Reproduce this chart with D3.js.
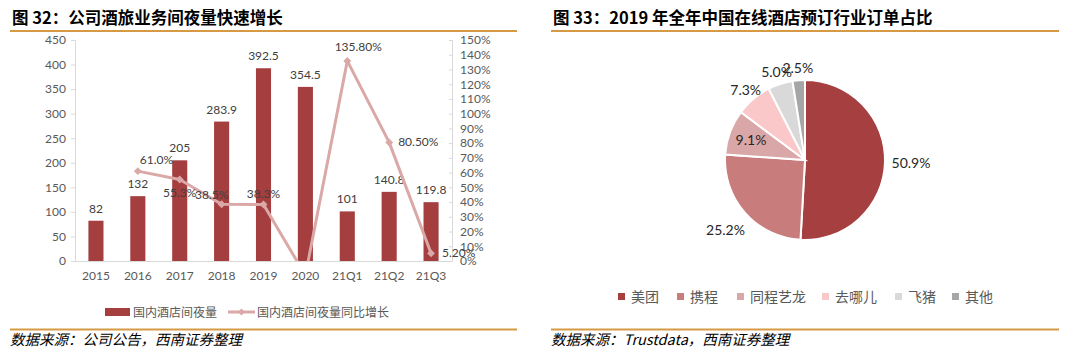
<!DOCTYPE html>
<html>
<head>
<meta charset="utf-8">
<script src="https://cdn.jsdelivr.net/npm/d3@7/dist/d3.min.js"></script>
<style>
  body { margin: 0; background: #fff; }
  svg { display: block; }
  .tick text { fill: #595959; }
</style>
</head>
<body>
<div id="chart"></div>
<script>
// data, left panel
var years = ["2015", "2016", "2017", "2018", "2019", "2020", "21Q1", "21Q2", "21Q3"];
var nights = [82, 132, 205, 283.9, 392.5, 354.5, 101, 140.8, 119.8];
var growth = [null, 61.0, 55.3, 38.5, 38.3, -9.7, 135.8, 80.5, 5.2];
var growthLabels = [null, "61.0%", "55.3%", "38.5%", "38.3%", null, "135.80%", "80.50%", "5.20%"];
var leftTicks = [0, 50, 100, 150, 200, 250, 300, 350, 400, 450];

// data, right panel
var platforms = ["美团", "携程", "同程艺龙", "去哪儿", "飞猪", "其他"];
var shares = [50.9, 25.2, 9.1, 7.3, 5.0, 2.5];

var W = 1080, H = 352;
var font = "Lato, 'Noto Sans CJK SC', sans-serif";
var cjk = "'Noto Sans CJK SC', sans-serif";
var gold = "#D69A45";
var barColor = "#A43E3F";
var lineColor = "#DBA8A8";
var sliceColors = ["#A63F40", "#C97C7C", "#D9A7A7", "#FAC8C8", "#D9D9D9", "#A6A6A6"];

var svg = d3.select("#chart").append("svg")
  .attr("width", W).attr("height", H)
  .style("font-family", font);

// headers, rules and sources
function frame(x0, x1, title, source) {
  svg.append("text").attr("x", x0 + 2).attr("y", 24)
    .attr("font-family", cjk).attr("font-weight", "bold")
    .attr("font-size", 16.5).attr("fill", "#000").text(title);
  svg.append("line").attr("x1", x0).attr("x2", x1).attr("y1", 31).attr("y2", 31)
    .attr("stroke", gold).attr("stroke-width", 2);
  svg.append("line").attr("x1", x0).attr("x2", x1).attr("y1", 329.5).attr("y2", 329.5)
    .attr("stroke", gold).attr("stroke-width", 2);
  svg.append("text").attr("x", x0).attr("y", 345)
    .attr("font-family", cjk).attr("font-style", "italic")
    .attr("font-size", 14.5).attr("fill", "#000").text(source);
}
frame(10, 517, "图 32：公司酒旅业务间夜量快速增长", "数据来源：公司公告，西南证券整理");
frame(551, 1059, "图 33：2019 年全年中国在线酒店预订行业订单占比", "数据来源：Trustdata，西南证券整理");

// ---- left: bars + growth line
var x = d3.scaleBand().domain(years).range([75, 452]).paddingInner(0.64).paddingOuter(0.32);
var y = d3.scaleLinear().domain([0, 450]).range([261, 40]);
var y2 = d3.scaleLinear().domain([0, 1.5]).range([261, 40]);

var gl = svg.append("g").attr("transform", "translate(75,0)")
  .call(d3.axisLeft(y).tickValues(leftTicks).tickSize(4).tickPadding(5));
gl.select(".domain").attr("stroke", "#D9D9D9");
gl.selectAll(".tick line").attr("stroke", "#D9D9D9");
gl.selectAll("text").attr("font-size", 12).attr("font-family", font);

var gr = svg.append("g").attr("transform", "translate(452,0)")
  .call(d3.axisRight(y2).tickValues(d3.range(0, 16).map(function(i) { return i / 10; }))
    .tickFormat(d3.format(".0%")).tickSize(-3).tickPadding(8));
gr.select(".domain").attr("stroke", "#D9D9D9");
gr.selectAll(".tick line").attr("stroke", "#D9D9D9");
gr.selectAll("text").attr("font-size", 12).attr("font-family", font);

var gx = svg.append("g").attr("transform", "translate(0,261)")
  .call(d3.axisBottom(x).tickSize(0).tickPadding(10));
gx.select(".domain").attr("stroke", "#D9D9D9");
gx.selectAll("text").attr("font-size", 12).attr("font-family", font);

svg.append("g").selectAll("rect").data(nights).join("rect")
  .attr("x", function(d, i) { return x(years[i]); })
  .attr("width", x.bandwidth())
  .attr("y", function(d) { return y(d); })
  .attr("height", function(d) { return y(0) - y(d); })
  .attr("fill", barColor);

svg.append("g").selectAll("text").data(nights).join("text")
  .attr("x", function(d, i) { return x(years[i]) + x.bandwidth() / 2; })
  .attr("y", function(d) { return y(d) - 8; })
  .attr("text-anchor", "middle").attr("font-size", 12).attr("fill", "#404040")
  .text(function(d) { return d; });

svg.append("clipPath").attr("id", "plotclip").append("rect")
  .attr("x", 70).attr("y", 35).attr("width", 390).attr("height", 226);

var cx = function(i) { return x(years[i]) + x.bandwidth() / 2; };
var pts = growth.map(function(v, i) { return v == null ? null : [cx(i), y2(v / 100)]; });
var lineGen = d3.line().defined(function(d) { return d != null; });

var gLine = svg.append("g").attr("clip-path", "url(#plotclip)");
gLine.append("path").attr("d", lineGen(pts))
  .attr("fill", "none").attr("stroke", lineColor).attr("stroke-width", 3)
  .attr("stroke-linejoin", "round");
gLine.selectAll("path.mk").data(pts.filter(function(p) { return p && p[1] <= 261; })).join("path")
  .attr("class", "mk")
  .attr("transform", function(d) { return "translate(" + d[0] + "," + d[1] + ")"; })
  .attr("d", d3.symbol(d3.symbolDiamond2, 40))
  .attr("fill", lineColor);

// growth labels: offsets relative to point
var lblPos = { 1: [2, -7, "start"], 2: [0, 17, "middle"], 3: [-10, -5, "middle"], 4: [0, -7, "middle"],
  6: [11, -10, "middle"], 7: [9, 4, "start"], 8: [11, 4, "start"] };
var lblData = growthLabels.map(function(t, i) { return { t: t, i: i }; })
  .filter(function(d) { return d.t != null; });
svg.append("g").selectAll("text").data(lblData).join("text")
  .attr("x", function(d) { return pts[d.i][0] + lblPos[d.i][0]; })
  .attr("y", function(d) { return pts[d.i][1] + lblPos[d.i][1]; })
  .attr("text-anchor", function(d) { return lblPos[d.i][2]; })
  .attr("font-size", 12).attr("fill", "#404040")
  .text(function(d) { return d.t; });

// left legend
var lg = svg.append("g").attr("font-family", cjk).attr("font-size", 12).attr("fill", "#595959");
lg.append("rect").attr("x", 105).attr("y", 308).attr("width", 25).attr("height", 8).attr("fill", barColor);
lg.append("text").attr("x", 133).attr("y", 316.5).text("国内酒店间夜量");
lg.append("line").attr("x1", 228).attr("x2", 255).attr("y1", 312).attr("y2", 312)
  .attr("stroke", lineColor).attr("stroke-width", 3);
lg.append("path").attr("transform", "translate(241.5,312)")
  .attr("d", d3.symbol(d3.symbolDiamond2, 30)).attr("fill", lineColor);
lg.append("text").attr("x", 257).attr("y", 316.5).text("国内酒店间夜量同比增长");

// ---- right: pie
var pcx = 805, pcy = 160, R = 80;
var pie = d3.pie().sort(null).value(function(d) { return d; });
var arcs = pie(shares);
var arc = d3.arc().innerRadius(0).outerRadius(R);
var gp = svg.append("g").attr("transform", "translate(" + pcx + "," + pcy + ")");
gp.selectAll("path").data(arcs).join("path")
  .attr("d", arc)
  .attr("fill", function(d, i) { return sliceColors[i]; })
  .attr("stroke", "#fff").attr("stroke-width", 2);

function labelR(d, i) {
  if (platforms[i] === "同程艺龙") return R * 0.72;
  return d.data > 20 ? 106 : 92;
}
gp.selectAll("text").data(arcs).join("text")
  .attr("transform", function(d, i) {
    var a = (d.startAngle + d.endAngle) / 2, r = labelR(d, i);
    return "translate(" + (Math.sin(a) * r) + "," + (-Math.cos(a) * r) + ")";
  })
  .attr("dy", "0.35em").attr("text-anchor", "middle")
  .attr("font-size", 14).attr("fill", "#262626")
  .text(function(d) { return d.data.toFixed(1) + "%"; });

// right legend
var legendX = [618, 677, 737, 822, 895, 952];
var rl = svg.append("g").attr("font-family", cjk).attr("font-size", 14).attr("fill", "#595959");
platforms.forEach(function(p, i) {
  rl.append("rect").attr("x", legendX[i]).attr("y", 293).attr("width", 7).attr("height", 7)
    .attr("fill", sliceColors[i]);
  rl.append("text").attr("x", legendX[i] + 13).attr("y", 302).text(p);
});
</script>
</body>
</html>
